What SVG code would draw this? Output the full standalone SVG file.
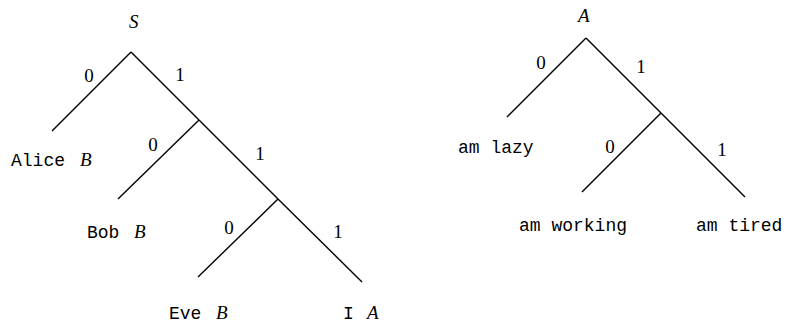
<svg xmlns="http://www.w3.org/2000/svg" width="788" height="329" viewBox="0 0 788 329">
<style>
.e{stroke:#000;stroke-width:1.4;fill:none}
.d{font-family:"Liberation Serif",serif;font-size:19px;fill:#000;text-anchor:middle}
.m{font-family:"Liberation Serif",serif;font-style:italic;font-size:19px;fill:#000}
.t{font-family:"Liberation Mono",monospace;font-size:18px;fill:#000}
</style>
<rect width="788" height="329" fill="#fff"/>
<g id="connectors">
<line class="e" x1="131" y1="52" x2="52" y2="131"/>
<line class="e" x1="131" y1="52" x2="199" y2="120"/>
<line class="e" x1="199" y1="120" x2="118" y2="199"/>
<line class="e" x1="199" y1="120" x2="278" y2="199"/>
<line class="e" x1="278" y1="199" x2="198" y2="277"/>
<line class="e" x1="278" y1="199" x2="362" y2="282"/>
<line class="e" x1="586" y1="38" x2="507" y2="117"/>
<line class="e" x1="586" y1="38" x2="661" y2="113"/>
<line class="e" x1="661" y1="113" x2="582" y2="192"/>
<line class="e" x1="661" y1="113" x2="745" y2="197"/>
</g>
<g id="edge-labels">
<text class="d" x="89" y="82">0</text>
<text class="d" x="180" y="81">1</text>
<text class="d" x="153" y="151">0</text>
<text class="d" x="260" y="160">1</text>
<text class="d" x="229" y="234">0</text>
<text class="d" x="338" y="238">1</text>
<text class="d" x="541" y="69">0</text>
<text class="d" x="641" y="73">1</text>
<text class="d" x="610" y="153">0</text>
<text class="d" x="722" y="156">1</text>
</g>
<g id="node-S"><text class="m" x="129" y="28">S</text></g>
<g id="node-alice"><text class="t" x="11" y="166">Alice</text><text class="m" x="80" y="166">B</text></g>
<g id="node-bob"><text class="t" x="87" y="238">Bob</text><text class="m" x="134" y="238">B</text></g>
<g id="node-eve"><text class="t" x="169" y="319">Eve</text><text class="m" x="216" y="319">B</text></g>
<g id="node-I"><text class="t" x="343" y="319">I</text><text class="m" x="367" y="319">A</text></g>
<g id="node-A"><text class="m" x="578" y="22">A</text></g>
<g id="node-lazy"><text class="t" x="458" y="153">am lazy</text></g>
<g id="node-working"><text class="t" x="519" y="231">am working</text></g>
<g id="node-tired"><text class="t" x="696" y="231">am tired</text></g>
</svg>
